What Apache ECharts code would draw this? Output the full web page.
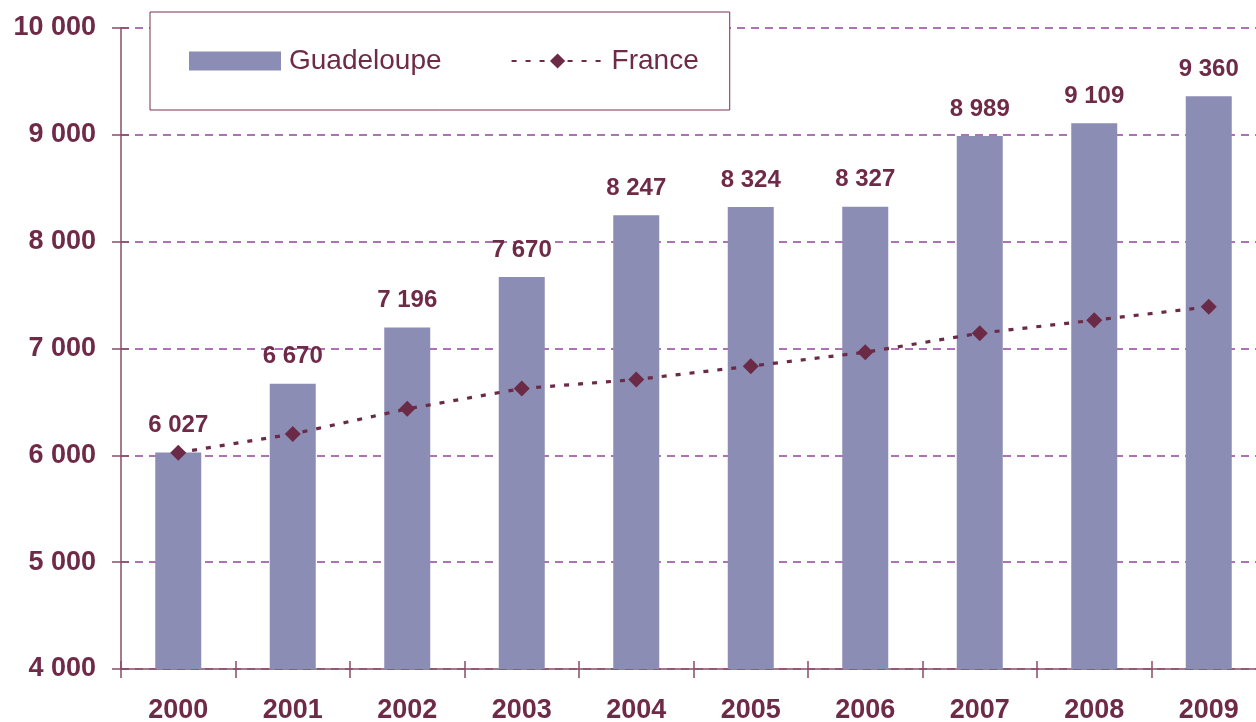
<!DOCTYPE html>
<html><head><meta charset="utf-8">
<script src="https://cdn.jsdelivr.net/npm/echarts@6/dist/echarts.min.js"></script>
<style>html,body{margin:0;padding:0;background:#fff}#c{width:1256px;height:722px}</style>
</head><body><div id="c"></div>
<script>
const years = ['2000','2001','2002','2003','2004','2005','2006','2007','2008','2009'];
const guadeloupe = [6027, 6670, 7196, 7670, 8247, 8324, 8327, 8989, 9109, 9360];
const france = [6025, 6200, 6435, 6625, 6710, 6835, 6965, 7143, 7265, 7390];
const yMin = 4000, yMax = 10000, yStep = 1000;

const TXT = '#6e2a47';
const AXIS = '#8a4c66';
const FONT = '"Liberation Sans", Arial, sans-serif';
const fmt = v => String(v).replace(/\B(?=(\d{3})+(?!\d))/g, ' ');

const chart = echarts.init(document.getElementById('c'));
chart.setOption({
  animation: false,
  backgroundColor: '#fff',
  textStyle: { fontFamily: FONT },
  grid: { left: 121, width: 1145, top: 28, height: 641, containLabel: false, outerBoundsMode: 'none' },
  legend: {
    left: 150, top: 12,
    padding: [35, 31, 35, 39],
    backgroundColor: '#fff',
    borderColor: '#7a3050', borderWidth: 1,
    itemWidth: 92, itemHeight: 19, itemGap: 69,
    textStyle: { color: TXT, fontSize: 28, fontFamily: FONT, padding: [0, 0, 0, 3] },
    data: [{ name: 'Guadeloupe', icon: 'rect' }, { name: 'France' }]
  },
  xAxis: [{
    type: 'category', data: years,
    axisLine: { lineStyle: { color: AXIS, width: 1.5 } },
    axisTick: { show: true, length: 9, alignWithLabel: false, lineStyle: { color: AXIS, width: 1.5 } },
    axisLabel: { color: TXT, fontSize: 27, fontWeight: 'bold', margin: 28, fontFamily: FONT },
    splitLine: { show: false }
  }, {
    type: 'category', data: years, position: 'bottom',
    axisLine: { show: false },
    axisTick: { show: true, inside: true, length: 8, lineStyle: { color: AXIS, width: 1.5 } },
    axisLabel: { show: false }, splitLine: { show: false }
  }],
  yAxis: [{
    type: 'value', min: yMin, max: yMax, interval: yStep,
    axisLine: { show: true, lineStyle: { color: AXIS, width: 1.5 } },
    axisTick: { show: true, length: 9, lineStyle: { color: AXIS, width: 1.5 } },
    axisLabel: { color: TXT, fontSize: 27, fontWeight: 'bold', margin: 25, fontFamily: FONT, formatter: fmt },
    splitLine: { show: true, lineStyle: { color: '#93449a', width: 1.5, type: [8, 6] } }
  }, {
    type: 'value', min: yMin, max: yMax, interval: yStep, position: 'left',
    axisLine: { show: false },
    axisTick: { show: true, inside: true, length: 8, lineStyle: { color: AXIS, width: 1.5 } },
    axisLabel: { show: false }, splitLine: { show: false }
  }],
  series: [{
    name: 'Guadeloupe', type: 'bar', data: guadeloupe, barWidth: 46,
    itemStyle: { color: '#8c8db5' },
    label: { show: true, position: 'top', distance: 15, color: TXT, fontSize: 24, fontWeight: 'bold', fontFamily: FONT, formatter: p => fmt(p.value) },
    z: 2
  }, {
    name: 'France', type: 'line', data: france,
    symbol: 'diamond', symbolSize: 16,
    itemStyle: { color: '#6b2a45' },
    lineStyle: { color: '#6b2a45', width: 3.2, type: [5, 9] },
    z: 3
  }]
});
</script></body></html>
